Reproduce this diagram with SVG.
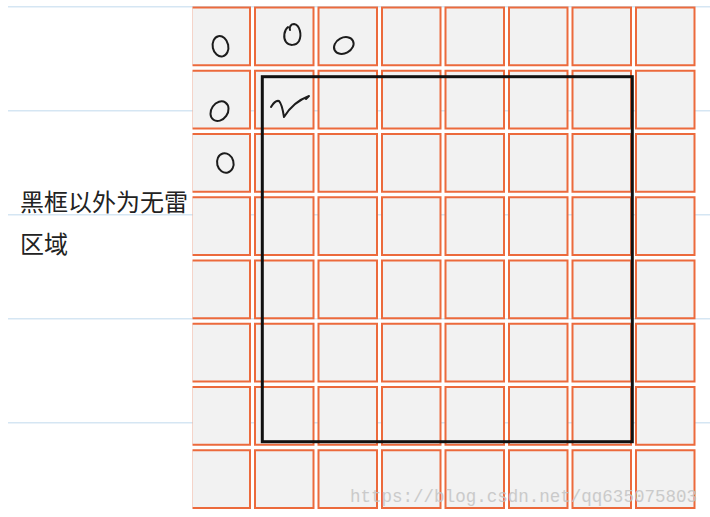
<svg xmlns="http://www.w3.org/2000/svg" xmlns:xlink="http://www.w3.org/1999/xlink" width="710" height="517" viewBox="0 0 710 517">
<style>
.rule{stroke:#d5e6f3;stroke-width:1.6;fill:none}
.cell{fill:#f2f2f2;stroke:#ec6a3c;stroke-width:2}
.mark{fill:none;stroke:#1c1c1c;stroke-width:2;stroke-linecap:round;stroke-linejoin:round}
.lbl{font-family:"Noto Sans CJK SC","Noto Sans",sans-serif;font-size:24px;fill:#222}
.wm{font-family:"Liberation Mono",monospace;font-size:17.5px;fill:#c4c4c4;opacity:0.85}
</style>
<defs>
<rect id="c" class="cell" x="0" y="0" width="58.5" height="57.75"/>
<clipPath id="gclip"><rect x="192.5" y="0" width="517.5" height="517"/></clipPath>
</defs>
<rect width="710" height="517" fill="#ffffff"/>
<g id="rules">
<line class="rule" x1="8" y1="6.7" x2="710" y2="6.7"/>
<line class="rule" x1="8" y1="110.7" x2="710" y2="110.7"/>
<line class="rule" x1="8" y1="214.7" x2="710" y2="214.7"/>
<line class="rule" x1="8" y1="318.7" x2="710" y2="318.7"/>
<line class="rule" x1="8" y1="422.7" x2="710" y2="422.7"/>
</g>
<g id="grid" clip-path="url(#gclip)">
<g id="row1">
<use xlink:href="#c" x="191.5" y="7.5"/><use xlink:href="#c" x="255" y="7.5"/><use xlink:href="#c" x="318.5" y="7.5"/><use xlink:href="#c" x="382" y="7.5"/><use xlink:href="#c" x="445.5" y="7.5"/><use xlink:href="#c" x="509" y="7.5"/><use xlink:href="#c" x="572.5" y="7.5"/><use xlink:href="#c" x="636" y="7.5"/>
</g>
<g id="row2">
<use xlink:href="#c" x="191.5" y="70.75"/><use xlink:href="#c" x="255" y="70.75"/><use xlink:href="#c" x="318.5" y="70.75"/><use xlink:href="#c" x="382" y="70.75"/><use xlink:href="#c" x="445.5" y="70.75"/><use xlink:href="#c" x="509" y="70.75"/><use xlink:href="#c" x="572.5" y="70.75"/><use xlink:href="#c" x="636" y="70.75"/>
</g>
<g id="row3">
<use xlink:href="#c" x="191.5" y="134"/><use xlink:href="#c" x="255" y="134"/><use xlink:href="#c" x="318.5" y="134"/><use xlink:href="#c" x="382" y="134"/><use xlink:href="#c" x="445.5" y="134"/><use xlink:href="#c" x="509" y="134"/><use xlink:href="#c" x="572.5" y="134"/><use xlink:href="#c" x="636" y="134"/>
</g>
<g id="row4">
<use xlink:href="#c" x="191.5" y="197.25"/><use xlink:href="#c" x="255" y="197.25"/><use xlink:href="#c" x="318.5" y="197.25"/><use xlink:href="#c" x="382" y="197.25"/><use xlink:href="#c" x="445.5" y="197.25"/><use xlink:href="#c" x="509" y="197.25"/><use xlink:href="#c" x="572.5" y="197.25"/><use xlink:href="#c" x="636" y="197.25"/>
</g>
<g id="row5">
<use xlink:href="#c" x="191.5" y="260.5"/><use xlink:href="#c" x="255" y="260.5"/><use xlink:href="#c" x="318.5" y="260.5"/><use xlink:href="#c" x="382" y="260.5"/><use xlink:href="#c" x="445.5" y="260.5"/><use xlink:href="#c" x="509" y="260.5"/><use xlink:href="#c" x="572.5" y="260.5"/><use xlink:href="#c" x="636" y="260.5"/>
</g>
<g id="row6">
<use xlink:href="#c" x="191.5" y="323.75"/><use xlink:href="#c" x="255" y="323.75"/><use xlink:href="#c" x="318.5" y="323.75"/><use xlink:href="#c" x="382" y="323.75"/><use xlink:href="#c" x="445.5" y="323.75"/><use xlink:href="#c" x="509" y="323.75"/><use xlink:href="#c" x="572.5" y="323.75"/><use xlink:href="#c" x="636" y="323.75"/>
</g>
<g id="row7">
<use xlink:href="#c" x="191.5" y="387"/><use xlink:href="#c" x="255" y="387"/><use xlink:href="#c" x="318.5" y="387"/><use xlink:href="#c" x="382" y="387"/><use xlink:href="#c" x="445.5" y="387"/><use xlink:href="#c" x="509" y="387"/><use xlink:href="#c" x="572.5" y="387"/><use xlink:href="#c" x="636" y="387"/>
</g>
<g id="row8">
<use xlink:href="#c" x="191.5" y="450.25"/><use xlink:href="#c" x="255" y="450.25"/><use xlink:href="#c" x="318.5" y="450.25"/><use xlink:href="#c" x="382" y="450.25"/><use xlink:href="#c" x="445.5" y="450.25"/><use xlink:href="#c" x="509" y="450.25"/><use xlink:href="#c" x="572.5" y="450.25"/><use xlink:href="#c" x="636" y="450.25"/>
</g>
</g>
<g id="frame">
<rect x="262.3" y="76.7" width="370" height="365" fill="none" stroke="#111" stroke-width="3"/>
</g>
<g id="marks">
<ellipse class="mark" cx="220.5" cy="46.3" rx="7.8" ry="10.3" transform="rotate(-12 220.5 46.3)"/>
<path class="mark" d="M288,27 C284,30 283,38 286,42 C289,46 296,46 299,41 C302,35 300,25 294,24 C291,24 289,27 290,30"/>
<ellipse class="mark" cx="343.8" cy="45.5" rx="10.3" ry="7.8" transform="rotate(-28 343.8 45.5)"/>
<ellipse class="mark" cx="219.5" cy="111.2" rx="10.5" ry="8.2" transform="rotate(-55 219.5 111.2)"/>
<ellipse class="mark" cx="225.3" cy="163" rx="8.2" ry="9.8" transform="rotate(-15 225.3 163)"/>
<path class="mark" d="M271,107 Q275,100 279,101 Q282,104 284,117 Q293,102 309,96 L306,99"/>
</g>
<g id="label">
<text class="lbl" x="20" y="211">黑框以外为无雷</text>
<text class="lbl" x="20" y="253">区域</text>
</g>
<g id="watermark">
<text class="wm" x="350" y="502" textLength="347" lengthAdjust="spacingAndGlyphs">https://blog.csdn.net/qq635075803</text>
</g>
</svg>
